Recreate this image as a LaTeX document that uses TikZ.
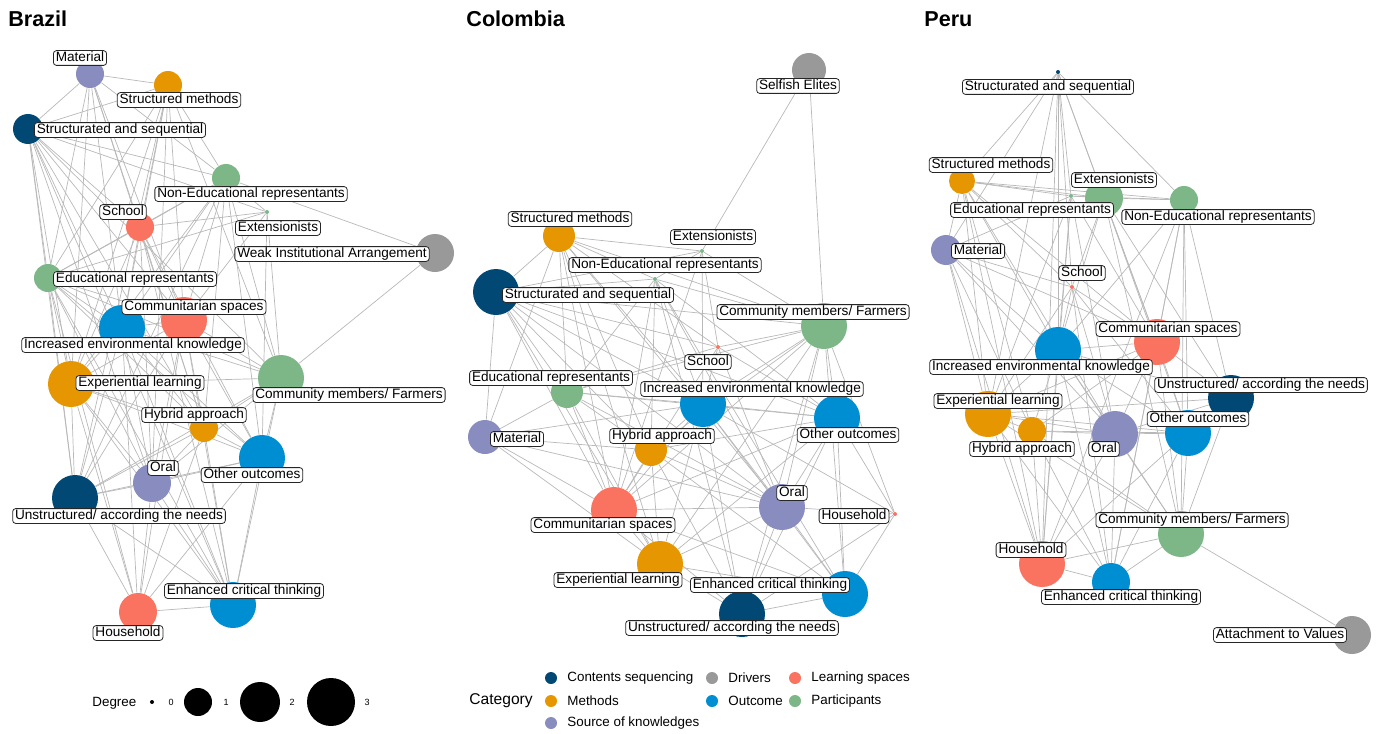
\documentclass[tikz,border=0pt]{standalone}
\usepackage{fontspec}
\setmainfont{Liberation Sans}
\usetikzlibrary{backgrounds}
\definecolor{cseq}{RGB}{1,72,116}
\definecolor{drv}{RGB}{153,153,153}
\definecolor{lsp}{RGB}{250,115,96}
\definecolor{mth}{RGB}{230,150,0}
\definecolor{out}{RGB}{0,142,210}
\definecolor{par}{RGB}{125,183,135}
\definecolor{src}{RGB}{136,140,190}
\begin{document}
\begin{tikzpicture}
[x=0.5pt,y=-0.5pt,
  vertex/.style={shape=circle,inner sep=0pt,minimum size=#1pt},
  tbox/.style={draw=black!85,fill=white,rounded corners=1.5pt,line width=0.4pt,
    inner xsep=1.2pt,inner ysep=0.5pt,text height=5pt,text depth=1.4pt,
    font=\fontsize{6.8}{8}\selectfont},
  linkline/.style={-,draw=black!28,line width=0.35pt},
  paneltitle/.style={anchor=base west,inner sep=0pt,font=\fontsize{10.8}{13}\selectfont\bfseries},
  keytext/.style={anchor=west,inner sep=0pt,font=\fontsize{6.7}{8}\selectfont},
  numtext/.style={inner sep=0pt,font=\fontsize{4.5}{5}\selectfont}]
\useasboundingbox (0,0) rectangle (1384,733);
%% panel titles
\node (brazil) at (8,27) [paneltitle] {Brazil};
\node (colombia) at (466,27) [paneltitle] {Colombia};
\node (peru) at (924,27) [paneltitle] {Peru};
%% vertices: name/x/y/radius/category
\foreach \nodename/\x/\y/\rad/\cat in {
  b-mat/90/74/14/src, b-stm/168/85/14/mth, b-sas/28/129/15/cseq,
  b-ned/226/178/14/par, b-sch/140/227/14/lsp, b-ext/267/212/2/par,
  b-wia/435/253/19/drv, b-edr/48/278/14/par, b-com/184/320/23/lsp,
  b-iek/122/328/23/out, b-exl/71/384/23/mth, b-cmf/281/378/23/par,
  b-hyb/204/428/14/mth, b-oth/262/458/23/out, b-ora/152/483/19/src,
  b-uns/75/498/23/cseq, b-ect/233/605/23/out, b-hou/138/612/19/lsp,
  c-sel/809/70/17/drv, c-stm/559/236/16/mth, c-ext/702/251/2/par,
  c-ned/655/279/2/par, c-sas/496/292/23/cseq, c-cmf/824/326/23/par,
  c-sch/718/347/2/lsp, c-edr/567/392/16/par, c-iek/703/404/23/out,
  c-oth/837/418/23/out, c-mat/485/437/17/src, c-hyb/651/450/16/mth,
  c-com/614/510/23/lsp, c-ora/782/507/23/src, c-hou/895/514/2/lsp,
  c-exl/660/564/23/mth, c-ect/845/594/23/out, c-uns/742/614/23/cseq,
  p-sas/1058/72/2/cseq, p-stm/962/181/13/mth, p-ext/1104/198/19/par,
  p-edr/1071/196/2/par, p-ned/1184/200/14/par, p-mat/946/250/15/src,
  p-sch/1072/287/2/lsp, p-com/1157/342/23/lsp, p-iek/1058/350/23/out,
  p-uns/1231/398/23/cseq, p-exl/988/414/23/mth, p-hyb/1032/431/14/mth,
  p-ora/1115/434/23/src, p-oth/1188/433/23/out, p-cmf/1181/534/23/par,
  p-hou/1042/564/23/lsp, p-ect/1111/582/19/out, p-atv/1352/635/19/drv} {
  \node (\nodename) at (\x,\y) [vertex=\rad,fill=\cat] {};
}
%% labels
\foreach \nodename/\x/\y/\txt in {
  b-mat/80/58/Material, b-stm/179/100/Structured methods,
  b-sas/120/130/Structurated and sequential,
  b-ned/251/194/Non-Educational representants, b-sch/123/212/School,
  b-ext/278/228/Extensionists, b-wia/332/254/Weak Institutional Arrangement,
  b-edr/135/279/Educational representants, b-com/194/307/Communitarian spaces,
  b-iek/133/345/Increased environmental knowledge,
  b-exl/140/383/Experiential learning, b-cmf/349/395/{Community members/ Farmers},
  b-hyb/194/415/Hybrid approach, b-oth/252/475/Other outcomes, b-ora/163/468/Oral,
  b-uns/119/516/{Unstructured/ according the needs},
  b-ect/244/591/Enhanced critical thinking, b-hou/128/633/Household,
  c-sel/798/86/Selfish Elites, c-stm/570/219/Structured methods,
  c-ext/713/237/Extensionists, c-ned/665/265/Non-Educational representants,
  c-sas/588/295/Structurated and sequential,
  c-cmf/813/312/{Community members/ Farmers}, c-sch/708/362/School,
  c-edr/551/378/Educational representants,
  c-iek/752/389/Increased environmental knowledge, c-oth/848/435/Other outcomes,
  c-mat/517/439/Material, c-hyb/662/436/Hybrid approach,
  c-com/603/525/Communitarian spaces, c-ora/792/493/Oral, c-hou/854/516/Household,
  c-exl/618/580/Experiential learning, c-ect/770/585/Enhanced critical thinking,
  c-uns/732/628/{Unstructured/ according the needs},
  p-sas/1048/87/Structurated and sequential, p-stm/991/165/Structured methods,
  p-ext/1114/180/Extensionists, p-edr/1032/210/Educational representants,
  p-ned/1218/217/Non-Educational representants, p-mat/978/251/Material,
  p-sch/1082/273/School, p-com/1168/329/Communitarian spaces,
  p-iek/1041/367/Increased environmental knowledge,
  p-uns/1261/385/{Unstructured/ according the needs},
  p-exl/998/401/Experiential learning, p-hyb/1022/449/Hybrid approach,
  p-ora/1104/449/Oral, p-oth/1198/419/Other outcomes,
  p-cmf/1192/520/{Community members/ Farmers}, p-hou/1031/550/Household,
  p-ect/1121/597/Enhanced critical thinking, p-atv/1280/635/Attachment to Values} {
  \node (\nodename-t) at (\x,\y) [tbox] {\txt};
}
%% edges, behind the vertices
\begin{scope}[on background layer]
% Brazil
\foreach \src/\dstlist in {
  mat/{stm,sas,sch,edr,com,iek,exl,hyb,ned},
  stm/{sas,ned,sch,edr,com,iek,exl,cmf,ora,uns},
  sas/{ned,sch,edr,com,iek,exl,hyb,ora,uns,cmf,ect,ext},
  ned/{sch,edr,com,iek,exl,cmf,oth,wia,hyb,ext,uns},
  sch/{edr,com,iek,exl,hyb,oth,ect,ext,ora},
  ext/{edr,com,oth,cmf},
  edr/{com,iek,exl,cmf,hyb,oth,ora,uns,ect,hou},
  com/{iek,exl,cmf,hyb,oth,ora,uns,ect,hou},
  iek/{exl,cmf,hyb,oth,ora,uns,ect,hou},
  exl/{cmf,hyb,oth,ora,uns,ect,hou},
  cmf/{hyb,oth,ora,uns,ect,wia},
  hyb/{oth,ora,uns,ect,hou},
  oth/{ora,uns,ect,hou},
  ora/{uns,ect,hou},
  uns/{ect,hou},
  ect/{hou}} {
  \foreach \dst in \dstlist {\draw[linkline] (b-\src) -- (b-\dst);}
}
% Colombia
\foreach \src/\dstlist in {
  sel/{ext,cmf},
  stm/{ext,ned,sas,edr,iek,mat,hyb,com,ora,exl,cmf,sch},
  ext/{ned,sas,cmf,iek,com,sch},
  ned/{sas,cmf,iek,edr,hyb,com,ora,ect,uns,oth},
  sas/{edr,mat,iek,hyb,com,exl,cmf,sch,oth,ora},
  cmf/{sch,iek,oth,edr,ora,ect,hou,uns,hyb,com,exl},
  sch/{edr,iek,oth,com,ora},
  edr/{iek,mat,hyb,com,exl,oth,ora},
  iek/{oth,hyb,com,ora,exl,ect,uns,hou,mat},
  oth/{ora,hou,ect,uns,com,hyb,exl},
  mat/{com,hyb,exl,ora},
  hyb/{com,exl,ora,ect,uns},
  com/{ora,exl,ect,uns},
  ora/{exl,ect,uns,hou},
  hou/{ect,uns},
  exl/{ect,uns},
  ect/{uns}} {
  \foreach \dst in \dstlist {\draw[linkline] (c-\src) -- (c-\dst);}
}
% Peru
\foreach \src/\dstlist in {
  sas/{stm,ext,edr,ned,mat,sch,iek,com,exl,hou},
  stm/{ext,edr,ned,mat,sch,iek,exl,hyb,ora,hou,com},
  ext/{edr,ned,sch,iek,com,uns,oth,cmf},
  edr/{ned,mat,iek,exl,hou,com,ora},
  ned/{com,iek,uns,oth,cmf,hou,ect},
  mat/{iek,exl,hyb,ora,com,hou,sch},
  sch/{iek,com,exl,ect,ora,oth},
  com/{iek,uns,oth,ora,exl,hyb,cmf,ect},
  iek/{exl,hyb,ora,oth,uns,hou,ect,cmf},
  uns/{oth,ora,exl,cmf},
  exl/{hyb,ora,oth,hou,ect,cmf},
  hyb/{ora,oth,hou,ect,cmf},
  ora/{oth,cmf,ect,hou},
  oth/{cmf,ect,hou},
  cmf/{ect,hou,atv},
  hou/{ect}} {
  \foreach \dst in \dstlist {\draw[linkline] (p-\src) -- (p-\dst);}
}
\end{scope}
%% degree key
\node (degkey) at (92,703) [keytext] {Degree};
\foreach \nodename/\x/\rad/\num/\nx in {d0/152/2/0/171, d1/198/14/1/226,
  d2/260/20/2/292, d3/331/24/3/367} {
  \node (\nodename) at (\x,702) [vertex=\rad,fill=black] {};
  \node (\nodename-n) at (\nx,702) [numtext] {\num};
}
%% category key
\node (catkey) at (469,701) [keytext,font=\fontsize{7.8}{9}\selectfont] {Category};
\foreach \nodename/\x/\y/\cat/\txt in {k1/551/678/cseq/Contents sequencing,
  k2/551/701/mth/Methods, k3/551/723/src/Source of knowledges,
  k4/712/678/drv/Drivers, k5/712/701/out/Outcome,
  k6/795/678/lsp/Learning spaces, k7/795/701/par/Participants} {
  \node (\nodename) at (\x,\y) [vertex=6,fill=\cat] {};
  \node (\nodename-t) at (\x+16,\y) [keytext] {\txt};
}
\end{tikzpicture}
\end{document}
